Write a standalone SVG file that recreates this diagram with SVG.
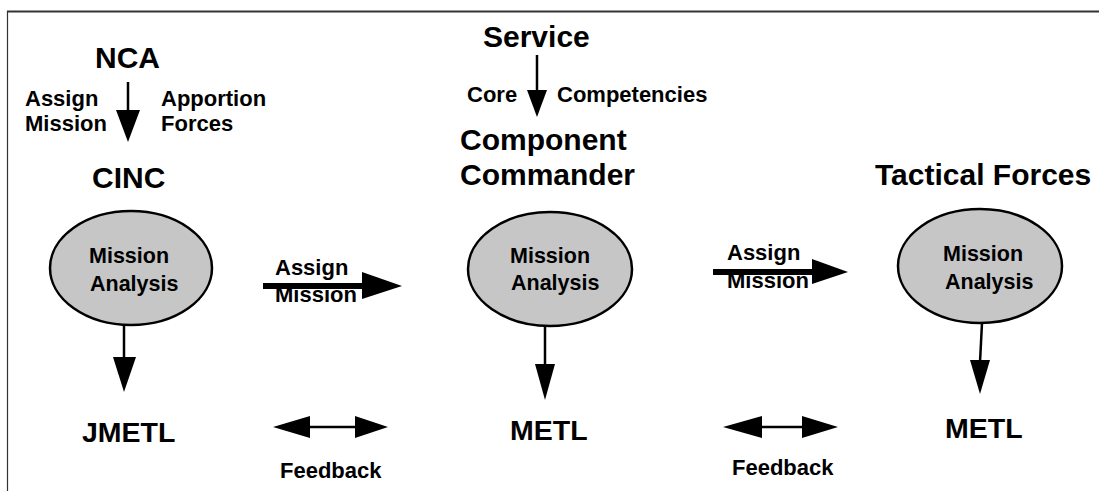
<svg xmlns="http://www.w3.org/2000/svg" width="1099" height="491" viewBox="0 0 1099 491">
<style>
text{font-family:"Liberation Sans",Arial,Helvetica,sans-serif;font-weight:bold;fill:#000}
.big{font-size:30px}
.mid{font-size:28.5px}
.sm{font-size:22px}
.in{font-size:21.5px}
.ell{fill:#c6c6c6;stroke:#000;stroke-width:2.5}
.ln{stroke:#000;stroke-width:2.5;fill:none}
.thick{stroke:#000;stroke-width:6;fill:none}
.hd{fill:#000;stroke:none}
.frame{stroke:#333;fill:none}
</style>
<rect width="1099" height="491" fill="#fff"/>
<line class="frame" x1="7" y1="11.5" x2="1099" y2="11.5" stroke-width="1.8"/>
<line class="frame" x1="7.5" y1="11" x2="7.5" y2="491" stroke-width="1.2"/>

<g id="nca"><text class="big" x="95" y="68">NCA</text></g>
<g id="cinc"><text class="big" x="92" y="188">CINC</text></g>
<g id="service"><text class="big" x="483" y="47">Service</text></g>
<g id="component-commander"><text class="big" x="460" y="150">Component</text><text class="big" x="460" y="185">Commander</text></g>
<g id="tactical-forces"><text class="big" x="875" y="185">Tactical Forces</text></g>

<g id="ma1"><ellipse class="ell" cx="131" cy="268" rx="81" ry="57"/><text class="in" x="89" y="263">Mission</text><text class="in" x="90" y="291">Analysis</text></g>
<g id="ma2"><ellipse class="ell" cx="550" cy="269" rx="82" ry="57"/><text class="in" x="510" y="263">Mission</text><text class="in" x="511" y="290">Analysis</text></g>
<g id="ma3"><ellipse class="ell" cx="980" cy="266" rx="82" ry="57"/><text class="in" x="943" y="261">Mission</text><text class="in" x="945" y="289">Analysis</text></g>

<g id="jmetl"><text class="mid" x="82" y="442">JMETL</text></g>
<g id="metl2"><text class="mid" x="510" y="440">METL</text></g>
<g id="metl3"><text class="mid" x="945" y="438">METL</text></g>

<g id="connectors">
  <line class="ln" x1="128" y1="82" x2="128" y2="112"/>
  <polygon class="hd" points="116,110 140,110 128,142"/>
  <text class="sm" x="25" y="106">Assign</text>
  <text class="sm" x="25" y="131">Mission</text>
  <text class="sm" x="161" y="106">Apportion</text>
  <text class="sm" x="161" y="131">Forces</text>

  <line class="ln" x1="537" y1="55" x2="537" y2="92"/>
  <polygon class="hd" points="527,90 547,90 537,117"/>
  <text class="sm" x="467" y="102">Core</text>
  <text class="sm" x="557" y="102">Competencies</text>

  <line class="thick" x1="263" y1="286" x2="364" y2="286"/>
  <polygon class="hd" points="362,272 402,286 362,299"/>
  <text class="sm" x="275" y="275">Assign</text>
  <text class="sm" x="275" y="302">Mission</text>

  <line class="thick" x1="713" y1="272" x2="814" y2="272"/>
  <polygon class="hd" points="812,259 848,272 812,284"/>
  <text class="sm" x="727" y="260">Assign</text>
  <text class="sm" x="727" y="288">Mission</text>

  <line class="ln" x1="124" y1="325" x2="124" y2="359"/>
  <polygon class="hd" points="113,357 136,357 124,392"/>
  <line class="ln" x1="545" y1="326" x2="545" y2="366"/>
  <polygon class="hd" points="535,364 555,364 545,400"/>
  <line class="ln" x1="982" y1="323" x2="980" y2="362"/>
  <polygon class="hd" points="970,360 990,360 980,394"/>

  <line class="ln" x1="305" y1="427" x2="358" y2="427"/>
  <polygon class="hd" points="273,427 310,416 310,438"/>
  <polygon class="hd" points="388,427 355,416 355,438"/>
  <text class="sm" x="280" y="478">Feedback</text>

  <line class="ln" x1="757" y1="427" x2="805" y2="427"/>
  <polygon class="hd" points="723,427 762,416 762,438"/>
  <polygon class="hd" points="838,427 802,416 802,438"/>
  <text class="sm" x="732" y="475">Feedback</text>
</g>
</svg>
